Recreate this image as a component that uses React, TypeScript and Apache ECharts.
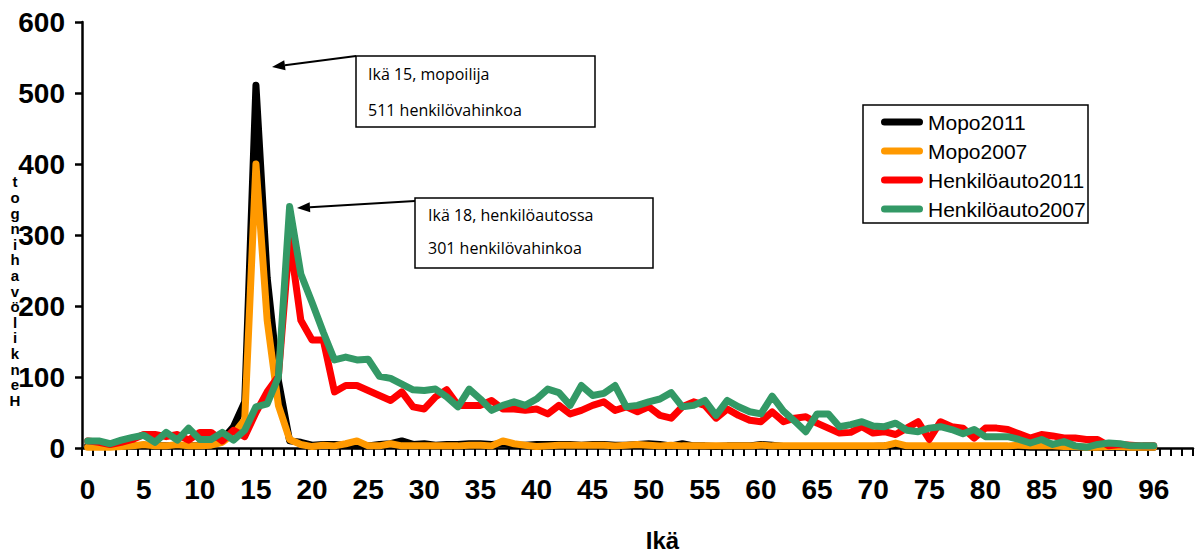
import React, { useEffect, useRef } from "react";
import * as echarts from "echarts";

const ages = [
  "0","1","2","3","4","5","6","7","8","9",
  "10","11","12","13","14","15","16","17","18","19",
  "20","21","22","23","24","25","26","27","28","29",
  "30","31","32","33","34","35","36","37","38","39",
  "40","41","42","43","44","45","46","47","48","49",
  "50","51","52","53","54","55","56","57","58","59",
  "60","61","62","63","64","65","66","67","68","69",
  "70","71","72","73","74","75","76","77","78","79",
  "80","81","82","83","84","85","86","87","88","89",
  "90","91","92","93","94","96","","",""
];

const yTicks = [0, 100, 200, 300, 400, 500, 600];

const mopo2011 = [
  3,2,2,3,3,4,3,3,4,3,
  3,5,12,30,65,511,240,95,10,8,
  4,5,5,4,3,3,5,6,10,5,
  6,4,5,5,6,6,5,6,4,4,
  5,5,5,5,4,5,5,4,4,5,
  6,5,3,6,3,3,2,3,3,3,
  5,4,2,2,2,2,2,2,2,2,
  2,3,5,2,2,2,2,2,2,2,
  2,2,2,2,1,1,1,1,1,1,
  1,1,1,1,1,1
];

const mopo2007 = [
  1,1,1,2,3,5,3,3,5,3,
  3,4,8,20,40,400,180,60,12,5,
  2,4,3,6,10,3,3,6,3,3,
  3,3,3,3,4,4,3,10,6,4,
  2,3,4,4,4,4,4,3,4,5,
  4,3,4,3,3,3,3,3,3,3,
  4,3,3,3,3,3,3,3,3,3,
  3,3,7,3,3,3,3,3,3,3,
  3,3,3,4,3,3,3,2,2,1,
  1,2,2,1,1,1
];

const auto2011 = [
  10,8,5,8,12,19,19,16,19,11,
  22,22,10,25,16,50,79,101,295,180,
  152,152,79,88,88,81,74,67,79,58,
  55,72,82,60,60,60,67,55,55,53,
  55,48,60,48,53,60,65,53,58,51,
  58,46,42,58,65,60,42,55,46,39,
  37,51,37,42,44,35,28,21,22,30,
  21,23,19,28,37,12,37,30,28,14,
  28,28,26,20,14,19,17,14,14,12,
  12,3,5,4,3,3
];

const auto2007 = [
  10,10,6,11,15,18,8,22,11,28,
  12,12,22,11,25,58,62,100,340,245,
  205,163,124,128,124,125,101,98,90,82,
  81,83,72,58,83,69,53,60,65,60,
  69,83,78,60,88,74,77,88,58,60,
  65,69,78,58,60,67,46,67,58,51,
  48,73,52,38,23,48,48,30,33,37,
  31,30,35,25,23,28,30,26,20,26,
  16,16,16,12,7,12,5,9,3,1,
  5,7,6,3,3,3
];

const seriesNames = ["Mopo2011", "Mopo2007", "Henkilöauto2011", "Henkilöauto2007"];
const seriesColors = ["#000000", "#FF9900", "#FF0000", "#339966"];
const seriesData = [mopo2011, mopo2007, auto2011, auto2007];

const yTitle = "Henkilövahingot";
const xTitle = "Ikä";
const note1 = ["Ikä 15, mopoilija", "511 henkilövahinkoa"];
const note2 = ["Ikä 18, henkilöautossa", "301 henkilövahinkoa"];

function arrow(x1: number, y1: number, x2: number, y2: number) {
  const dx = x2 - x1;
  const dy = y2 - y1;
  const len = Math.sqrt(dx * dx + dy * dy);
  const ux = dx / len;
  const uy = dy / len;
  const hl = 13;
  const hw = 5;
  const bx = x2 - ux * hl;
  const by = y2 - uy * hl;
  const nx = -uy;
  const ny = ux;
  return [
    {
      type: "line",
      shape: { x1, y1, x2: bx, y2: by },
      style: { stroke: "#000", lineWidth: 2 },
      silent: true,
    },
    {
      type: "polygon",
      shape: { points: [[x2, y2], [bx + nx * hw, by + ny * hw], [bx - nx * hw, by - ny * hw]] },
      style: { fill: "#000" },
      silent: true,
    },
  ];
}

function noteBox(x: number, y: number, w: number, h: number, lines: string[], tx: number, ty1: number, ty2: number) {
  const font = "16px 'Open Sans', 'Liberation Sans', sans-serif";
  return [
    {
      type: "rect",
      shape: { x, y, width: w, height: h },
      style: { fill: "#fff", stroke: "#000", lineWidth: 1.5 },
      silent: true,
    },
    {
      type: "text",
      x: tx,
      y: ty1,
      style: { text: lines[0], fill: "#000", font, verticalAlign: "middle", align: "left" },
      silent: true,
    },
    {
      type: "text",
      x: tx,
      y: ty2,
      style: { text: lines[1], fill: "#000", font, verticalAlign: "middle", align: "left" },
      silent: true,
    },
  ];
}

const capsule = "path://M3.5,0 L38.5,0 A3.5,3.5 0 0 1 38.5,7 L3.5,7 A3.5,3.5 0 0 1 3.5,0 Z";

export default function App() {
  const ref = useRef<HTMLDivElement>(null);

  useEffect(() => {
    if (!ref.current) return;
    const chart = echarts.init(ref.current, null, { renderer: "svg" });
    const stacked = yTitle.split("").reverse().join("\n");

    const option: any = {
      animation: false,
      backgroundColor: "#ffffff",
      grid: { left: 82, right: 4, top: 22, bottom: 101, containLabel: false },
      legend: {
        orient: "vertical",
        left: 881,
        top: 110,
        padding: 0,
        itemGap: 5,
        itemWidth: 42,
        itemHeight: 7,
        icon: capsule,
        data: seriesNames,
        textStyle: {
          color: "#000",
          fontSize: 21,
          lineHeight: 24,
          fontFamily: "'Liberation Sans', Arial, sans-serif",
        },
      },
      xAxis: {
        type: "category",
        data: ages,
        boundaryGap: true,
        name: xTitle,
        nameLocation: "middle",
        nameGap: 80,
        nameTextStyle: {
          color: "#000",
          fontSize: 24,
          fontWeight: "bold",
          fontFamily: "'Liberation Sans', Arial, sans-serif",
          padding: [0, 0, 0, 50],
        },
        axisLine: { lineStyle: { color: "#000", width: 2.5 } },
        axisTick: { show: true, interval: 0, length: 8, lineStyle: { color: "#000", width: 2 } },
        axisLabel: {
          interval: 4,
          margin: 27,
          color: "#000",
          fontSize: 28,
          fontWeight: "bold",
          fontFamily: "'Liberation Sans', Arial, sans-serif",
        },
        splitLine: { show: false },
      },
      yAxis: {
        type: "value",
        min: yTicks[0],
        max: yTicks[yTicks.length - 1],
        interval: 100,
        axisLine: { show: true, lineStyle: { color: "#000", width: 2.5 } },
        axisTick: { show: true, length: 7, lineStyle: { color: "#000", width: 2.5 } },
        axisLabel: {
          margin: 17,
          color: "#000",
          fontSize: 28,
          fontWeight: "bold",
          fontFamily: "'Liberation Sans', Arial, sans-serif",
        },
        splitLine: { show: false },
      },
      series: seriesNames.map((name, i) => ({
        name,
        type: "line",
        data: seriesData[i],
        symbol: "none",
        showSymbol: false,
        color: seriesColors[i],
        itemStyle: { color: seriesColors[i] },
        lineStyle: { color: seriesColors[i], width: 7, cap: "round", join: "round" },
        z: 2 + i,
      })),
      graphic: [
        {
          type: "text",
          x: 15,
          y: 291,
          style: {
            text: stacked,
            fill: "#000",
            font: "bold 15px 'Liberation Sans', Arial, sans-serif",
            lineHeight: 15.6,
            align: "center",
            verticalAlign: "middle",
          },
          silent: true,
        },
        {
          type: "rect",
          shape: { x: 863, y: 105, width: 225, height: 118 },
          style: { fill: "none", stroke: "#000", lineWidth: 1.5 },
          silent: true,
          z: -1,
        },
        ...arrow(356, 56, 272, 67),
        ...noteBox(356, 56, 239, 71, note1, 368, 74, 110),
        ...arrow(415, 201, 297, 208),
        ...noteBox(415, 198, 238, 70, note2, 428, 215, 248),
      ],
    };

    chart.setOption(option);
    return () => chart.dispose();
  }, []);

  return (
    <div
      ref={ref}
      style={{ position: "absolute", left: 0, top: 0, width: 1197, height: 557 }}
    />
  );
}
